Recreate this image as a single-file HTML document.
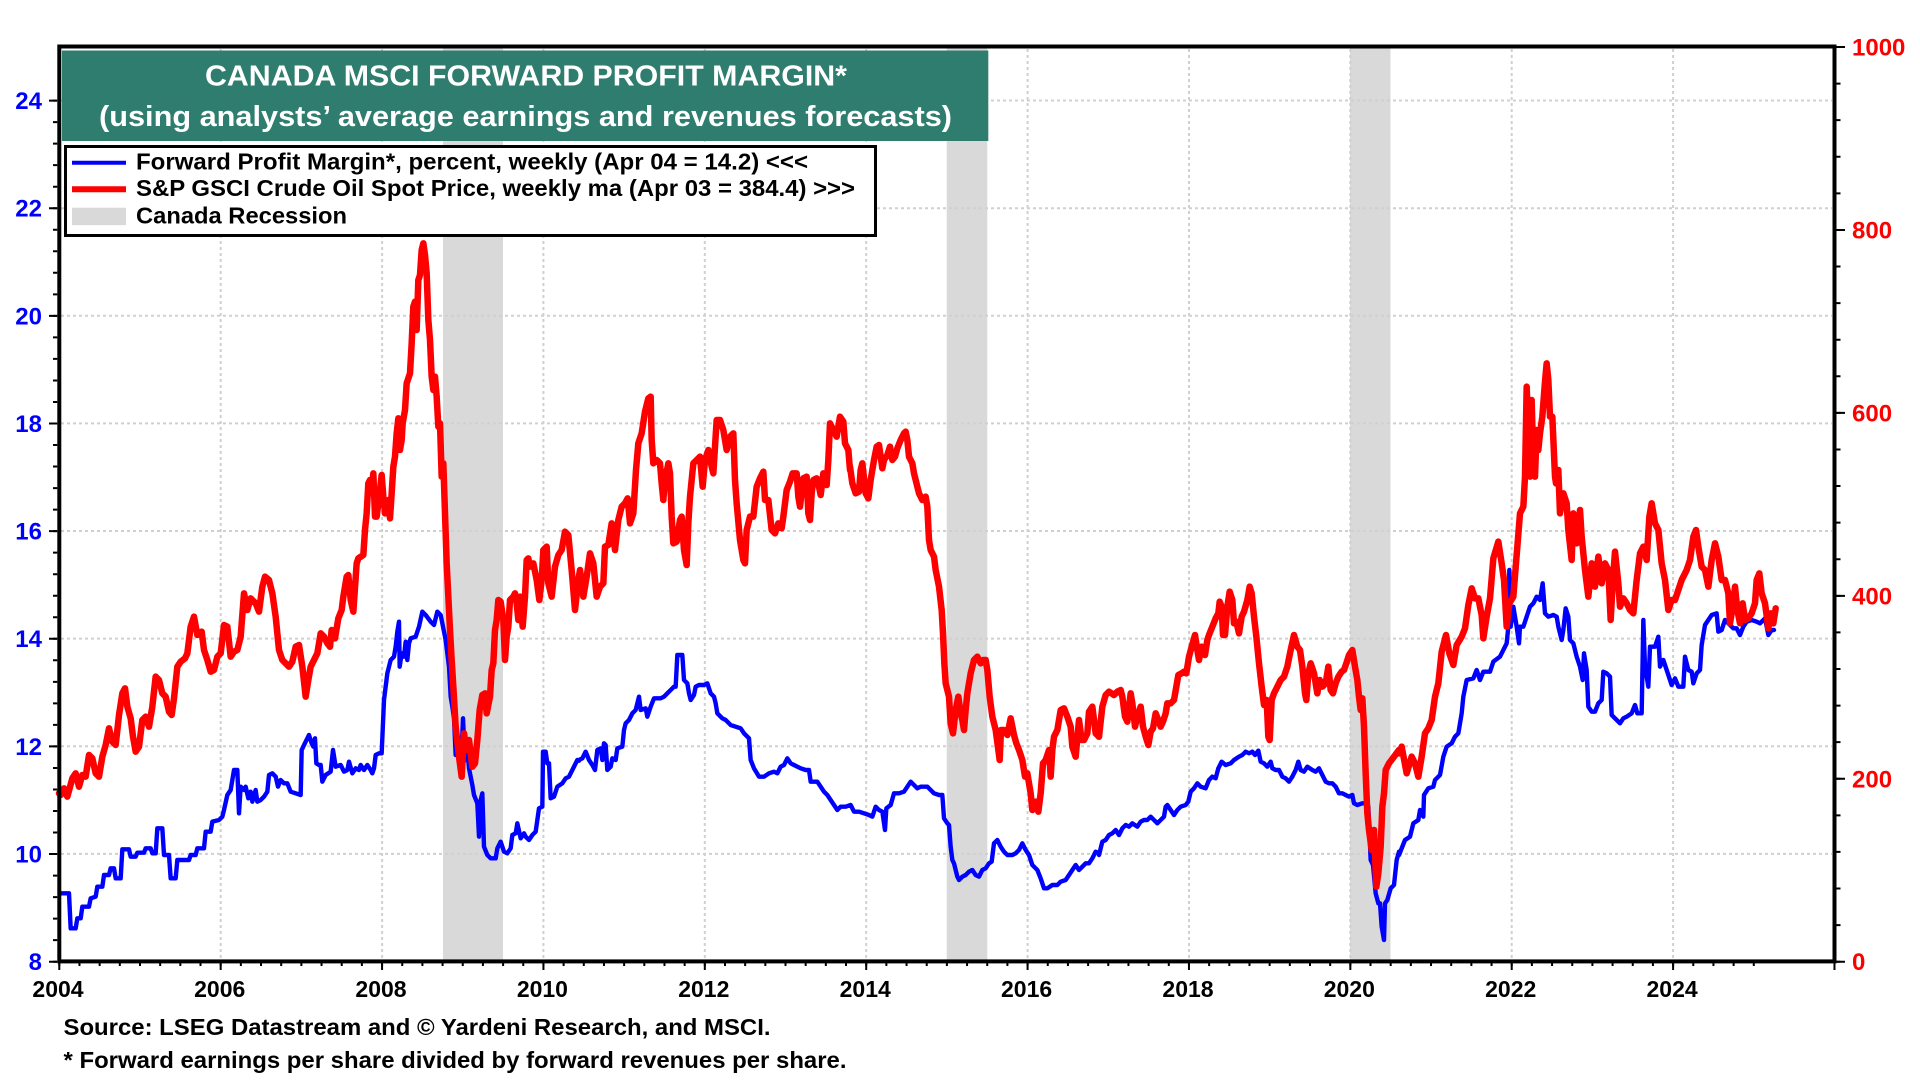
<!DOCTYPE html>
<html><head><meta charset="utf-8"><style>
html,body{margin:0;padding:0;background:#fff;}
svg{display:block;}
text{font-family:"Liberation Sans",Arial,sans-serif;font-weight:bold;}
</style></head><body>
<svg width="1920" height="1080" viewBox="0 0 1920 1080" xmlns="http://www.w3.org/2000/svg">
<rect x="0" y="0" width="1920" height="1080" fill="#fff"/>
<!-- recession bands -->
<rect x="443" y="47" width="60" height="914" fill="#d9d9d9"/>
<rect x="946.7" y="47" width="40.6" height="914" fill="#d9d9d9"/>
<rect x="1350" y="47" width="40.5" height="914" fill="#d9d9d9"/>
<!-- grid -->
<g stroke="#d0d0d0" stroke-width="2" stroke-dasharray="3 3" fill="none">
<path d="M61,853.9H1832M61,746.3H1832M61,638.6H1832M61,531H1832M61,423.4H1832M61,315.8H1832M61,208.2H1832M61,100.5H1832"/>
<path d="M220.7,49V959M382.1,49V959M543.4,49V959M704.8,49V959M866.2,49V959M1027.6,49V959M1189,49V959M1350.3,49V959M1511.7,49V959M1673.1,49V959"/>
</g>
<!-- blue series -->
<g fill="none" stroke="#0000ff" stroke-width="4.4" stroke-linejoin="round" stroke-linecap="round">
<g transform="translate(59,440) scale(0.333333)"><polyline vector-effect="non-scaling-stroke" points="2,1360 30,1360 35,1465 50,1465 55,1435 65,1435 70,1400 90,1400 95,1375 110,1370 115,1340 130,1340 135,1305 150,1305 155,1285 165,1285 170,1315 185,1315 190,1228 210,1228 215,1250 230,1250 235,1238 255,1238 260,1225 275,1225 280,1240 290,1240 295,1165 310,1165 315,1245 330,1245 335,1315 350,1315 355,1260 390,1260 395,1245 410,1245 415,1225 435,1225 440,1175 455,1175 460,1145 480,1140 490,1130 495,1110 505,1065 515,1050 525,990 535,990 540,1120 545,1040 555,1050 560,1040 568,1075 575,1055 580,1085 590,1050 595,1085 605,1080 615,1070 625,1055 630,1005 640,1000 650,1010 657,1040 665,1020 675,1030 685,1030 695,1055 710,1060 725,1065 728,930 740,905 750,885 758,910 763,920 768,895 772,970 780,975 785,975 790,1025 800,1005 815,995 822,930 830,980 845,975 855,995 865,990 870,965 880,1000 890,985 900,990 905,975 915,990 925,975 935,990 940,1000 945,985 950,945 960,940 968,940 975,780 985,700 995,660 1005,650 1010,620 1015,575 1020,545 1022,680 1028,640 1035,650 1040,605 1045,660 1050,610 1055,595 1070,590 1080,560 1090,515 1100,525 1115,545 1125,555 1135,515 1145,525 1160,600 1170,680 1175,770 1180,800 1185,835 1190,945 1200,940 1205,1005 1212,835 1215,900 1220,960 1225,925 1230,985 1240,1035 1245,1065 1255,1090 1260,1190 1265,1080 1270,1060 1275,1220 1285,1245 1295,1255 1310,1255 1315,1225 1325,1205 1335,1235 1345,1240 1355,1225 1360,1185 1370,1180 1375,1150 1385,1195 1395,1180 1400,1190 1410,1200 1420,1185 1430,1175 1440,1105 1450,1100 1452,935 1460,935 1465,970 1470,970 1475,1075 1485,1070 1495,1040 1510,1030 1520,1015 1530,1010 1540,990 1555,960 1560,962"/></g>
<g transform="translate(579,430) scale(0.333333)"><polyline vector-effect="non-scaling-stroke" points="-5,992 0,990 10,985 20,965 30,990 40,1005 48,1020 55,960 65,955 70,990 75,940 80,945 85,1020 95,1010 100,985 110,990 115,955 130,950 135,900 140,880 150,870 160,850 170,840 180,800 185,840 200,835 205,860 215,830 225,805 245,805 255,800 265,790 275,780 285,770 290,770 295,675 310,675 315,750 325,760 330,790 335,810 345,795 350,770 360,765 375,765 385,760 395,790 405,800 410,820 415,850 425,860 430,865 440,870 455,885 470,890 485,895 495,910 510,925 515,990 525,1015 540,1040 555,1040 570,1030 585,1025 595,1030 605,1010 615,1005 625,985 635,1000 645,1005 655,1010 665,1015 680,1020 690,1020 695,1055 715,1055 725,1070 735,1085 745,1095 755,1110 765,1125 775,1140 785,1130 800,1130 815,1125 825,1145 840,1145 855,1150 870,1155 880,1160 890,1130 900,1140 910,1145 918,1200 922,1135 935,1125 945,1090 960,1090 975,1085 985,1070 995,1055 1005,1065 1015,1075 1025,1070 1035,1070 1045,1070 1055,1080 1065,1090 1080,1095 1090,1095 1095,1165 1105,1180 1110,1185 1115,1250 1120,1290 1125,1300 1135,1340 1140,1350 1150,1340 1160,1335 1170,1325 1180,1320 1190,1335 1200,1340 1210,1320 1220,1315 1230,1300 1238,1295 1245,1240 1255,1230 1265,1250 1275,1265 1285,1275 1300,1275 1310,1270 1320,1260 1330,1240 1340,1260 1350,1275 1360,1305 1375,1320 1385,1345 1395,1375 1405,1375 1420,1365 1435,1365 1445,1355 1460,1350 1470,1335 1480,1320 1490,1305 1500,1320 1510,1310 1520,1300 1530,1300 1540,1285 1550,1265 1560,1270"/></g>
<g transform="translate(1099,540) scale(0.333333)"><polyline vector-effect="non-scaling-stroke" points="0,945 10,905 20,900 30,885 40,880 50,870 60,885 70,865 80,855 90,860 100,850 115,860 125,845 135,840 145,840 155,830 165,840 175,850 185,840 195,830 200,800 205,795 215,810 225,825 235,810 245,800 260,795 268,785 275,755 285,745 295,730 305,740 320,745 330,720 340,710 350,715 358,685 368,665 380,675 395,670 405,660 420,650 430,645 440,635 450,640 460,635 468,645 478,632 485,665 495,670 505,680 515,665 520,685 530,690 540,690 550,710 560,715 570,725 580,710 590,690 598,665 605,690 615,695 625,680 640,690 650,695 660,685 670,705 680,725 690,730 700,730 710,740 720,760 730,760 740,765 750,770 760,765 765,790 775,795 790,790 800,790 808,800 815,960 822,975 830,1060 838,1090 843,1090 848,1160 855,1200 858,1090 865,1080 875,1045 885,1035 893,960 900,935"/></g>
<g transform="translate(1300,350) scale(0.333333)"><polyline vector-effect="non-scaling-stroke" points="297,1515 315,1470 330,1460 340,1420 355,1410 360,1380 370,1400 372,1335 385,1315 400,1310 405,1290 420,1275 430,1220 440,1190 455,1180 465,1160 475,1150 485,1090 490,1040 500,990 520,985 530,960 540,990 550,965 570,965 580,935 600,920 610,900 620,880 625,830 628,660 632,830 640,770 650,830 657,880 660,830 670,830 680,800 690,770 700,760 710,740 720,750 728,700 735,790 745,800 760,795 770,800 775,830 785,870 790,840 797,775 805,800 810,870 820,880 830,920 840,950 848,990 852,910 860,960 865,1070 875,1085 885,1085 895,1060 905,1050 910,965 920,970 930,980 935,1095 945,1105 960,1120 970,1105 980,1100 995,1090 1005,1065 1012,1090 1025,1090 1030,810 1035,950 1045,1010 1050,890 1065,890 1075,860 1080,950 1090,930 1100,960 1115,1005 1125,985 1135,1010 1150,1010 1155,920 1165,960 1175,965 1180,1000 1190,970 1200,960 1205,885 1215,825 1225,810 1235,795 1250,790 1255,845 1265,840 1275,810 1285,820 1300,835 1310,835 1320,855 1330,830 1340,815 1355,810 1370,815 1380,820 1390,810 1395,805 1405,855 1415,840 1422,840"/></g>
</g>
<!-- red series -->
<g fill="none" stroke="#ff0000" stroke-width="6.5" stroke-linejoin="round" stroke-linecap="round">
<g transform="translate(59,440) scale(0.333333)"><polyline vector-effect="non-scaling-stroke" points="0,1060 5,1065 15,1045 25,1070 40,1015 50,1000 60,1040 70,1005 80,1010 90,945 100,955 110,1000 120,1010 130,950 140,915 150,865 160,905 170,915 180,825 190,760 198,745 205,800 215,835 222,890 230,935 240,920 250,840 260,830 270,860 280,800 290,710 300,720 310,760 320,770 330,815 338,825 345,775 355,680 365,665 378,655 385,640 395,560 405,530 415,585 428,575 435,630 445,660 455,695 465,690 475,650 485,640 495,555 505,560 515,650 525,635 535,630 545,590 555,460 565,510 575,475 590,490 600,515 610,440 618,410 630,420 640,460 650,530 660,630 670,660 680,670 690,680 700,665 710,620 720,615 730,680 740,770 748,720 755,680 765,660 775,640 785,580 795,590 805,610 813,620"/></g>
<g transform="translate(330,230) scale(0.333333)"><polyline vector-effect="non-scaling-stroke" points="0,1250 5,1200 15,1225 25,1165 35,1140 40,1100 50,1040 55,1035 62,1110 70,1145 80,1000 85,985 100,975 105,900 110,850 115,760 120,750 125,780 130,730 135,860 140,860 150,780 155,735 160,800 165,850 175,810 180,865 185,790 190,710 195,680 200,610 205,565 210,660 215,630 218,580 225,540 230,460 240,430 245,340 250,230 255,215 260,300 265,150 270,135 275,60 280,40 285,75 290,130 295,270 300,330 305,440 310,480 315,440 320,500 325,590 330,580 335,740 340,700 345,850 350,1000 355,1100 360,1200 365,1290 370,1370 377,1490 387,1580 395,1640 402,1510 409,1560 417,1530 427,1610 435,1600 442,1530 449,1440 457,1395 465,1390 470,1450 480,1400 485,1320 490,1300 495,1200 500,1170 505,1110 512,1115 520,1170 525,1290 530,1220 535,1190 540,1110 550,1100 555,1090 560,1120 565,1170 570,1100 578,1190 585,1100 590,990 595,985 600,1010 610,1000 620,1050 628,1110 635,1050 640,960 650,950 655,1060 665,1100 675,1010 685,975 695,960 705,905 715,915 725,1020 735,1140 745,1050 750,1020 760,1100 770,1040 780,970 790,1000 800,1100 810,1070 820,1060 825,950 835,945 845,880 855,960 865,870 875,830 885,820 893,805 900,880 910,850 918,720 925,640 935,610 945,545 955,505 962,500 965,630 970,700 980,690 990,700 995,760 1000,810 1005,750 1015,700 1020,730 1025,860 1030,940 1040,935 1050,870 1055,860 1062,960 1070,1005 1075,880 1080,800 1090,700 1100,690 1110,680 1118,770 1125,690 1135,660 1145,710 1150,730 1160,570 1170,570 1180,600 1190,660 1200,620 1210,610 1215,750 1220,820 1230,930 1240,990 1245,1000 1250,900 1260,860 1270,860 1280,770 1290,745 1300,725 1305,810 1315,810 1325,900 1335,910 1345,880 1355,895 1360,860 1370,780 1380,755 1388,730 1400,730 1405,800 1410,830 1420,745 1430,740 1435,850 1440,870 1445,790 1450,750 1460,745 1465,760 1472,795 1480,730 1490,765 1495,690 1500,580 1510,600 1520,620 1530,560 1540,575 1545,640 1555,660 1560,720"/></g>
<g transform="translate(579,430) scale(0.333333)"><polyline vector-effect="non-scaling-stroke" points="813,110 820,160 830,190 840,185 845,120 850,100 860,190 868,205 875,150 885,90 893,50 900,45 905,80 910,115 915,90 925,75 933,50 940,90 948,80 955,55 965,30 975,10 980,5 985,30 990,80 1000,100 1005,130 1015,170 1020,190 1030,210 1040,200 1045,230 1050,330 1055,360 1065,380 1070,420 1080,470 1088,540 1092,610 1096,700 1100,760 1110,800 1115,880 1122,910 1130,840 1138,800 1145,850 1150,870 1155,900 1160,840 1165,790 1175,730 1185,690 1195,680 1205,700 1212,690 1220,690 1225,720 1232,800 1240,860 1250,900 1258,960 1262,990 1266,900 1275,900 1285,915 1295,865 1305,915 1312,940 1320,960 1330,990 1338,1040 1345,1030 1355,1090 1360,1140 1370,1115 1378,1145 1385,1090 1392,1000 1400,990 1410,960 1415,1040 1420,960 1425,920 1435,900 1445,840 1455,835 1465,860 1475,890 1480,950 1490,980 1500,870 1508,930 1515,930 1525,910 1530,845 1540,830 1550,910 1560,920"/></g>
<g transform="translate(1099,540) scale(0.333333)"><polyline vector-effect="non-scaling-stroke" points="0,590 10,500 20,465 30,455 45,465 55,455 65,450 70,470 78,530 85,545 95,460 100,490 108,560 115,530 125,500 132,560 140,590 148,615 155,575 162,565 170,520 178,540 185,560 192,545 200,520 205,490 215,490 225,480 232,440 238,405 248,400 255,395 262,400 270,350 278,320 288,285 295,330 300,360 308,320 318,345 325,300 330,285 340,260 350,235 358,220 362,185 368,200 372,285 378,285 385,200 392,155 400,180 405,250 412,245 420,280 428,230 435,215 445,180 452,140 458,160 465,230 472,290 480,370 488,440 495,495 503,480 508,590 512,600 518,480 525,460 535,440 545,420 555,410 565,380 575,330 585,285 595,320 603,330 610,380 618,460 622,480 628,400 635,370 645,400 650,430 655,460 662,420 670,440 680,430 688,380 695,450 702,460 710,430 718,410 728,395 735,390 742,370 750,345 760,330 768,380 775,420 780,470 785,510 790,475 795,560 800,700 805,820 810,870 818,930 825,870 832,1040 838,1000 845,920 850,800 855,760 860,690 870,670 885,650 900,630"/></g>
<g transform="translate(1300,350) scale(0.333333)"><polyline vector-effect="non-scaling-stroke" points="297,1210 305,1190 320,1270 335,1220 345,1240 355,1280 365,1220 375,1150 385,1135 395,1110 405,1040 415,1000 425,905 438,855 448,910 460,945 470,885 485,860 495,835 505,765 515,715 525,745 535,745 545,795 550,865 560,800 570,745 580,625 595,575 605,640 612,690 620,830 628,760 640,740 650,615 660,490 670,470 675,380 680,110 685,240 690,380 695,150 700,340 705,380 710,240 715,300 720,250 727,200 735,95 740,40 745,90 750,200 757,200 765,380 768,400 775,360 780,490 790,430 800,460 805,540 815,630 820,490 830,580 840,480 845,560 855,660 865,740 875,640 885,710 895,620 905,700 915,640 925,660 932,810 938,700 945,605 955,700 960,770 970,745 980,760 990,780 1000,790 1010,690 1020,610 1030,590 1040,630 1048,500 1055,460 1065,520 1075,540 1085,640 1095,690 1105,780 1115,750 1125,750 1135,720 1145,690 1160,660 1170,630 1180,560 1188,540 1195,590 1205,650 1215,660 1225,710 1235,630 1245,580 1255,620 1265,690 1275,690 1285,730 1290,820 1300,760 1305,710 1312,780 1320,820 1328,760 1335,810 1345,805 1355,790 1365,760 1370,690 1378,670 1385,730 1395,760 1405,835 1412,790 1420,820 1427,775"/></g>
</g>
<!-- title box -->
<rect x="62" y="50.5" width="926.3" height="90.5" fill="#2e7d6f"/>
<text x="205" y="85.5" font-size="29" fill="#fff" textLength="642" lengthAdjust="spacingAndGlyphs">CANADA MSCI FORWARD PROFIT MARGIN*</text>
<text x="99" y="126" font-size="29" fill="#fff" textLength="853" lengthAdjust="spacingAndGlyphs">(using analysts’ average earnings and revenues forecasts)</text>
<!-- legend -->
<rect x="65.5" y="146.5" width="810" height="89" fill="#fff" stroke="#000" stroke-width="3"/>
<line x1="72" y1="162.7" x2="126" y2="162.7" stroke="#0000ff" stroke-width="4"/>
<line x1="72" y1="189.3" x2="126" y2="189.3" stroke="#ff0000" stroke-width="6"/>
<rect x="72" y="207.7" width="54" height="17.5" fill="#d9d9d9"/>
<text x="136" y="169.3" font-size="23" fill="#000" textLength="672" lengthAdjust="spacingAndGlyphs">Forward Profit Margin*, percent, weekly (Apr 04 = 14.2) &lt;&lt;&lt;</text>
<text x="136" y="196" font-size="23" fill="#000" textLength="719" lengthAdjust="spacingAndGlyphs">S&amp;P GSCI Crude Oil Spot Price, weekly ma (Apr 03 = 384.4) &gt;&gt;&gt;</text>
<text x="136" y="223.3" font-size="23" fill="#000" textLength="211" lengthAdjust="spacingAndGlyphs">Canada Recession</text>
<!-- frame -->
<rect x="59.3" y="46.5" width="1775.2" height="914.9" fill="none" stroke="#000" stroke-width="4"/>
<!-- ticks -->
<g stroke="#000" stroke-width="2" fill="none">
<path d="M59.3,962v4m20.1725,-4v4m20.1725,-4v4m20.1725,-4v4m20.1725,-4v4m20.1725,-4v4m20.1725,-4v4m20.1725,-4v4m20.1725,-4v4m20.1725,-4v4m20.1725,-4v4m20.1725,-4v4m20.1725,-4v4m20.1725,-4v4m20.1725,-4v4m20.1725,-4v4m20.1725,-4v4m20.1725,-4v4m20.1725,-4v4m20.1725,-4v4m20.1725,-4v4m20.1725,-4v4m20.1725,-4v4m20.1725,-4v4m20.1725,-4v4m20.1725,-4v4m20.1725,-4v4m20.1725,-4v4m20.1725,-4v4m20.1725,-4v4m20.1725,-4v4m20.1725,-4v4m20.1725,-4v4m20.1725,-4v4m20.1725,-4v4m20.1725,-4v4m20.1725,-4v4m20.1725,-4v4m20.1725,-4v4m20.1725,-4v4m20.1725,-4v4m20.1725,-4v4m20.1725,-4v4m20.1725,-4v4m20.1725,-4v4m20.1725,-4v4m20.1725,-4v4m20.1725,-4v4m20.1725,-4v4m20.1725,-4v4m20.1725,-4v4m20.1725,-4v4m20.1725,-4v4m20.1725,-4v4m20.1725,-4v4m20.1725,-4v4m20.1725,-4v4m20.1725,-4v4m20.1725,-4v4m20.1725,-4v4m20.1725,-4v4m20.1725,-4v4m20.1725,-4v4m20.1725,-4v4m20.1725,-4v4m20.1725,-4v4m20.1725,-4v4m20.1725,-4v4m20.1725,-4v4m20.1725,-4v4m20.1725,-4v4m20.1725,-4v4m20.1725,-4v4m20.1725,-4v4m20.1725,-4v4m20.1725,-4v4m20.1725,-4v4m20.1725,-4v4m20.1725,-4v4m20.1725,-4v4m20.1725,-4v4m20.1725,-4v4m20.1725,-4v4m20.1725,-4v4m20.1725,-4v4"/>
<path d="M59.3,962v8m161.38,-8v8m161.38,-8v8m161.38,-8v8m161.38,-8v8m161.38,-8v8m161.38,-8v8m161.38,-8v8m161.38,-8v8m161.38,-8v8m161.38,-8v8m161.38,-8v8"/>
<path d="M53,961.7h4.3m-4.3,-21.528h4.3m-4.3,-21.528h4.3m-4.3,-21.528h4.3m-4.3,-21.528h4.3m-4.3,-21.528h4.3m-4.3,-21.528h4.3m-4.3,-21.528h4.3m-4.3,-21.528h4.3m-4.3,-21.528h4.3m-4.3,-21.528h4.3m-4.3,-21.528h4.3m-4.3,-21.528h4.3m-4.3,-21.528h4.3m-4.3,-21.528h4.3m-4.3,-21.528h4.3m-4.3,-21.528h4.3m-4.3,-21.528h4.3m-4.3,-21.528h4.3m-4.3,-21.528h4.3m-4.3,-21.528h4.3m-4.3,-21.528h4.3m-4.3,-21.528h4.3m-4.3,-21.528h4.3m-4.3,-21.528h4.3m-4.3,-21.528h4.3m-4.3,-21.528h4.3m-4.3,-21.528h4.3m-4.3,-21.528h4.3m-4.3,-21.528h4.3m-4.3,-21.528h4.3m-4.3,-21.528h4.3m-4.3,-21.528h4.3m-4.3,-21.528h4.3m-4.3,-21.528h4.3m-4.3,-21.528h4.3m-4.3,-21.528h4.3m-4.3,-21.528h4.3m-4.3,-21.528h4.3m-4.3,-21.528h4.3m-4.3,-21.528h4.3"/>
<path d="M49,961.7h8m-8,-107.64h8m-8,-107.64h8m-8,-107.64h8m-8,-107.64h8m-8,-107.64h8m-8,-107.64h8m-8,-107.64h8m-8,-107.64h8"/>
<path d="M1836,961.7h4.5m-4.5,-36.588h4.5m-4.5,-36.588h4.5m-4.5,-36.588h4.5m-4.5,-36.588h4.5m-4.5,-36.588h4.5m-4.5,-36.588h4.5m-4.5,-36.588h4.5m-4.5,-36.588h4.5m-4.5,-36.588h4.5m-4.5,-36.588h4.5m-4.5,-36.588h4.5m-4.5,-36.588h4.5m-4.5,-36.588h4.5m-4.5,-36.588h4.5m-4.5,-36.588h4.5m-4.5,-36.588h4.5m-4.5,-36.588h4.5m-4.5,-36.588h4.5m-4.5,-36.588h4.5m-4.5,-36.588h4.5m-4.5,-36.588h4.5m-4.5,-36.588h4.5m-4.5,-36.588h4.5m-4.5,-36.588h4.5m-4.5,-36.588h4.5"/>
<path d="M1836,961.7h9m-9,-182.94h9m-9,-182.94h9m-9,-182.94h9m-9,-182.94h9m-9,-182.94h9"/>
</g>
<!-- left axis labels -->
<g font-size="24" fill="#0000ff" text-anchor="end">
<text x="42" y="970.2">8</text>
<text x="42" y="862.4">10</text>
<text x="42" y="754.8">12</text>
<text x="42" y="647.1">14</text>
<text x="42" y="539.5">16</text>
<text x="42" y="431.9">18</text>
<text x="42" y="324.3">20</text>
<text x="42" y="216.7">22</text>
<text x="42" y="109">24</text>
</g>
<!-- right axis labels -->
<g font-size="24" fill="#ff0000">
<text x="1852" y="970.2">0</text>
<text x="1852" y="787.3">200</text>
<text x="1852" y="604.3">400</text>
<text x="1852" y="421.4">600</text>
<text x="1852" y="238.4">800</text>
<text x="1852" y="55.5">1000</text>
</g>
<!-- x axis labels -->
<g font-size="23" fill="#000" text-anchor="middle">
<text x="58" y="997">2004</text>
<text x="219.7" y="997">2006</text>
<text x="381" y="997">2008</text>
<text x="542.4" y="997">2010</text>
<text x="703.8" y="997">2012</text>
<text x="865.2" y="997">2014</text>
<text x="1026.6" y="997">2016</text>
<text x="1188" y="997">2018</text>
<text x="1349.3" y="997">2020</text>
<text x="1510.7" y="997">2022</text>
<text x="1672.1" y="997">2024</text>
</g>
<!-- footnotes -->
<text x="63.5" y="1035" font-size="23" fill="#000" textLength="707" lengthAdjust="spacingAndGlyphs">Source: LSEG Datastream and © Yardeni Research, and MSCI.</text>
<text x="63.5" y="1068" font-size="23" fill="#000" textLength="783" lengthAdjust="spacingAndGlyphs">* Forward earnings per share divided by forward revenues per share.</text>
</svg>
</body></html>
